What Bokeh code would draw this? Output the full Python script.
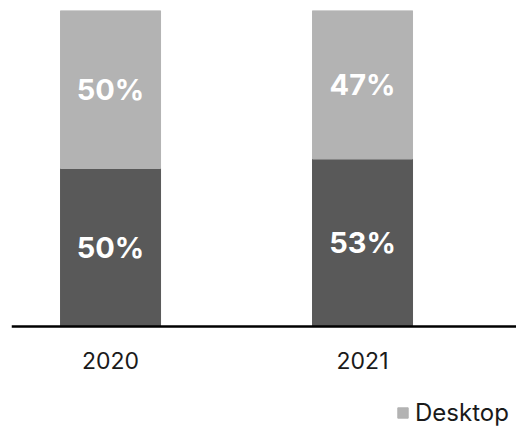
from bokeh.plotting import figure
from bokeh.models import ColumnDataSource, Range1d, Legend, LegendItem, LabelSet, Span
from bokeh.core.properties import value
from bokeh.embed import file_html
from bokeh.resources import INLINE

years = ["2020", "2021"]
mobile = [50, 53]
desktop = [50, 47]
series_names = ["Mobile", "Desktop"]
colors = ["#595959", "#b3b3b3"]

xs = [i + 0.5 for i in range(len(years))]
src = ColumnDataSource(dict(
    x=xs,
    year=years,
    zero=[0] * len(years),
    mobile=mobile,
    desktop=desktop,
    desk_top=[m + d for m, d in zip(mobile, desktop)],
    mob_mid=[m / 2 for m in mobile],
    desk_mid=[m + d / 2 for m, d in zip(mobile, desktop)],
    mob_lbl=[f"{m}%" for m in mobile],
    desk_lbl=[f"{d}%" for d in desktop],
))

p = figure(width=516, height=427, output_backend="svg", toolbar_location=None,
           x_range=Range1d(0.107, 2.111), y_range=Range1d(-31.96, 100),
           min_border_left=11, min_border_right=0, min_border_top=10, min_border_bottom=0)
p.outline_line_color = None
p.xgrid.visible = False
p.ygrid.visible = False
p.xaxis.visible = False
p.yaxis.visible = False
p.background_fill_color = "white"
p.border_fill_color = "white"

bw = 100 / 252
r_mob = p.vbar(x="x", bottom=0, top="mobile", width=bw, color=colors[0], source=src)
r_desk = p.vbar(x="x", bottom="mobile", top="desk_top", width=bw, color=colors[1], source=src)

# baseline (x axis line)
p.add_layout(Span(location=0, dimension="width", line_color="black", line_width=2.5))

for ycol, tcol in [("mob_mid", "mob_lbl"), ("desk_mid", "desk_lbl")]:
    p.add_layout(LabelSet(x="x", y=ycol, text=tcol, source=src,
                          text_color="white", text_font=value("Inter"), text_font_style="bold",
                          text_font_size="29px", text_align="center", text_baseline="middle"))

# category labels under the baseline
p.add_layout(LabelSet(x="x", y="zero", text="year", source=src, y_offset=-34,
                      text_color="#1a1a1a", text_font=value("Inter"), text_font_size="23px",
                      text_align="center", text_baseline="middle"))

legend = Legend(items=[LegendItem(label=series_names[1], renderers=[r_desk])],
                location=(385, 0), orientation="horizontal",
                border_line_color=None, background_fill_alpha=0,
                padding=0, margin=0, spacing=0,
                glyph_width=13, glyph_height=13, label_standoff=6,
                label_text_font="Inter", label_text_font_size="24px",
                label_text_color="#1a1a1a", label_height=24)
p.add_layout(legend)

open("out.html", "w").write(file_html(p, INLINE))
